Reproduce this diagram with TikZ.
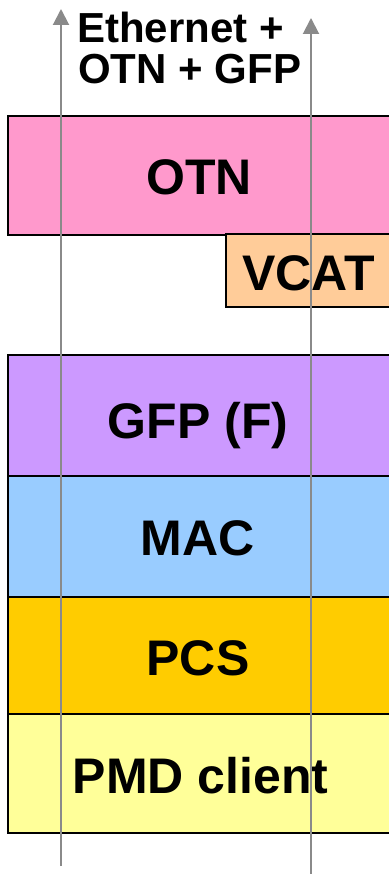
\documentclass[tikz,border=0pt]{standalone}
\usepackage{fontspec}
\setmainfont{Liberation Sans}
\usetikzlibrary{arrows.meta}
\definecolor{otnpink}{HTML}{FF99CC}
\definecolor{vcatpeach}{HTML}{FFCC99}
\definecolor{gfpviolet}{HTML}{CC99FF}
\definecolor{macblue}{HTML}{99CCFF}
\definecolor{pcsgold}{HTML}{FFCC00}
\definecolor{pmdyellow}{HTML}{FFFF99}
\definecolor{arrowgray}{HTML}{8A8A8A}
\begin{document}
\begin{tikzpicture}[x=1pt,y=-1pt,
  layerbox/.style={draw=black, line width=2pt},
  layerlabel/.style={anchor=base, inner sep=0pt,
    font=\fontsize{50}{52}\selectfont\bfseries},
  headline/.style={anchor=base west, inner sep=0pt,
    font=\fontsize{42}{44}\selectfont\bfseries},
  stackarrow/.style={draw=arrowgray, line width=2pt,
    -{Triangle[width=16pt,length=16pt]}}]
  \useasboundingbox (0,0) rectangle (388,874);

  % protocol layers, top to bottom
  \path[layerbox, fill=otnpink]   (8,116) rectangle (392,235);
  \coordinate (otn) at (199,195);
  \path[layerbox, fill=vcatpeach] (226,234) rectangle (392,307);
  \coordinate (vcat) at (308.5,290);
  \path[layerbox, fill=gfpviolet] (8,355) rectangle (392,476);
  \coordinate (gfp) at (198,438);
  \path[layerbox, fill=macblue]   (8,476) rectangle (392,597);
  \coordinate (mac) at (197.5,555);
  \path[layerbox, fill=pcsgold]   (8,597) rectangle (392,714);
  \coordinate (pcs) at (198,675);
  \path[layerbox, fill=pmdyellow] (8,714) rectangle (392,833);
  \coordinate (pmd) at (200.5,793);

  \node[layerlabel] (otnL)  at (otn)  {OTN};
  \node[layerlabel] (vcatL) at (vcat) {VCAT};
  \node[layerlabel] (gfpL)  at (gfp)  {GFP (F)};
  \node[layerlabel] (macL)  at (mac)  {MAC};
  \node[layerlabel] (pcsL)  at (pcs)  {PCS};
  \node[layerlabel] (pmdL)  at (pmd)  {PMD client};

  % stack title
  \node[headline] (title1) at (77,42.5) {Ethernet +};
  \node[headline] (title2) at (78,84)   {OTN + GFP};

  % data path arrows through the stack
  \coordinate (leftBot)  at (61,866);
  \coordinate (leftTop)  at (61,9);
  \coordinate (rightBot) at (311,876);
  \coordinate (rightTop) at (311,18);
  \draw[stackarrow] (leftBot) -- (leftTop);
  \draw[stackarrow] (rightBot) -- (rightTop);
\end{tikzpicture}
\end{document}
